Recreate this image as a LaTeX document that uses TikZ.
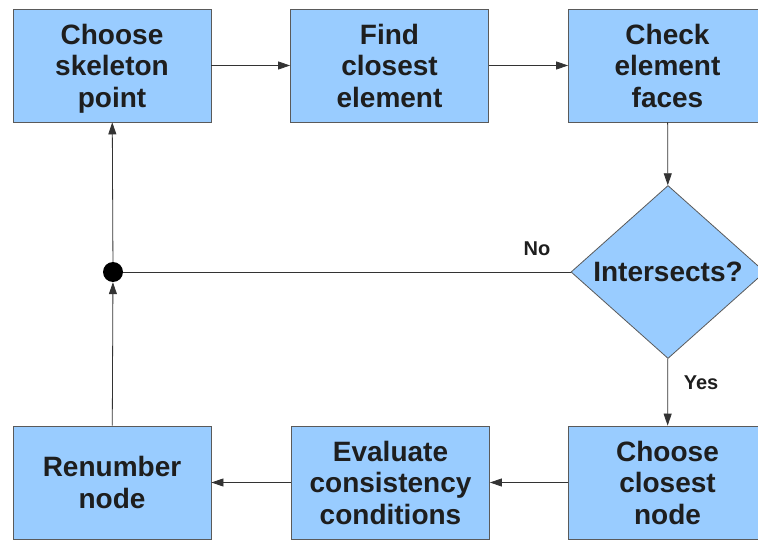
\documentclass[tikz,border=0pt]{standalone}
\usepackage{fontspec}
\setmainfont{Liberation Sans}
\usetikzlibrary{arrows.meta,shapes.geometric}
\definecolor{boxfill}{HTML}{99CCFF}
\definecolor{boxline}{HTML}{5A5A5A}
\definecolor{flowline}{HTML}{333333}
\definecolor{inktext}{HTML}{1E1E1E}

\begin{document}
\begin{tikzpicture}[
  x=1pt, y=-1pt,
  box/.style={rectangle, draw=boxline, line width=0.8pt, fill=boxfill, minimum width=198pt, minimum height=113pt, inner sep=0pt, align=center, font=\fontsize{28}{31.5}\selectfont\bfseries, text=inktext},
  test/.style={diamond, draw=boxline, line width=0.8pt, fill=boxfill, minimum width=194pt, minimum height=173pt, inner sep=0pt, aspect=1.12, font=\fontsize{28}{31.5}\selectfont\bfseries, text=inktext},
  junc/.style={circle, fill=black, minimum size=20pt, inner sep=0pt},
  flow/.style={-{Triangle[length=12pt,width=8pt]}, flowline, line width=0.8pt},
  lbl/.style={font=\fontsize{20}{24}\selectfont\bfseries, text=inktext}
]
\clip (0,0) rectangle (758,540);

% Top row
\node[box] (pick) at (112,65.5) {Choose\\skeleton\\\smash{point}};
\node[box] (near) at (389.5,65.5) {Find\\closest\\element};
\node[box] (face) at (667.5,65.5) {Check\\element\\faces};

% Test
\node[test] (cut) at (668,272) {Intersects?};
\node[junc] (merge) at (113,272) {};

% Bottom row
\node[box] (renum) at (112,482.5) {Renumber\\node};
\node[box] (cons) at (390.5,482.5) {Evaluate\\consistency\\conditions};
\node[box] (close) at (667.5,482.5) {Choose\\closest\\node};

% Connectors
\draw[flow] (pick) -- (near);
\draw[flow] (near) -- (face);
\draw[flow] (face) -- (cut);
\draw[flowline, line width=0.8pt] (cut.west) -- (merge);
\node[lbl] (no) at (537,249) {No};
\draw[flow] (cut) -- (close);
\node[lbl] (yes) at (701,383) {Yes};
\draw[flow] (close) -- (cons);
\draw[flow] (cons) -- (renum);
\draw[flow] (renum) -- (merge);
\draw[flow] (merge) -- (pick);
\end{tikzpicture}
\end{document}
